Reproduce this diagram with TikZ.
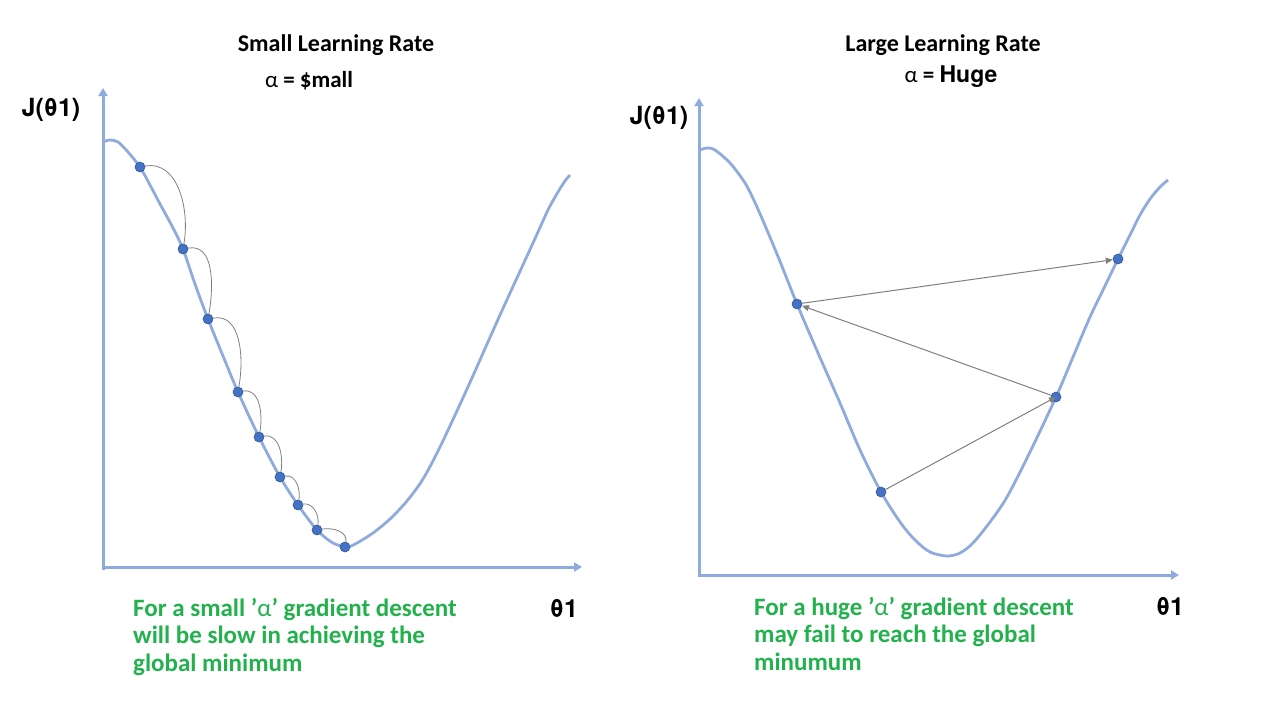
\documentclass[tikz,border=0pt]{standalone}
\usepackage{fontspec}
\setmainfont{Carlito}
\newfontfamily\arialfont{TeX Gyre Heros}
\usetikzlibrary{arrows.meta,positioning}
\definecolor{axisblue}{HTML}{8FAADC}
\definecolor{dotblue}{HTML}{4472C4}
\definecolor{notegreen}{HTML}{22B14C}
\tikzset{
    %Define standard arrow tip
    >={Triangle[width=6pt,length=7pt]},
    %Define style for points on the curve
    dot/.style={
           circle,
           draw=dotblue!75!black, line width=0.6pt,
           fill=dotblue,
           inner sep=0pt,
           minimum size=10pt},
    % Define axis and curve style
    axis/.style={
           -{Triangle[width=9pt,length=8pt]},
           draw=axisblue,
           line width=3pt},
    cost/.style={
           draw=axisblue,
           line width=2.8pt,
           line join=round},
    % Define step styles
    hop/.style={
           draw=gray,
           line width=0.8pt},
    jump/.style={
           ->,
           draw=gray,
           line width=1pt},
    % Define text styles
    title/.style={font=\fontsize{24}{28}\selectfont\bfseries},
    rate/.style={font=\fontsize{23}{26}\selectfont\bfseries},
    axlabel/.style={font=\arialfont\fontsize{25}{28}\selectfont\bfseries},
    note/.style={
           anchor=north west,
           align=left,
           inner sep=0pt,
           text=notegreen,
           font=\fontsize{25}{27.5}\selectfont\bfseries}
}
\begin{document}
\begin{tikzpicture}[x=1pt,y=-1pt]
\useasboundingbox (0,0) rectangle (1280,720);
% left panel
\node[title](tl) at (336,45){Small Learning Rate};
\node[rate](al) at (309,81){{\mdseries α} = \$mall};
\node[axlabel](jl) at (51,110){J(θ1)};
\node[axlabel](xl) at (564,608){θ1};
\draw[axis] (103,570) -- (103,88);
\draw[axis] (101.5,567) -- (582,567);
\draw[cost] plot[smooth,tension=0.5] coordinates {(103,142) (110,140) (118,142) (128,152) (140,167) (150,185) (160,204) (172,226) (183,249) (195,284) (208,319) (223,356) (238,392) (259,437) (280,477) (298,505) (317,530) (333,543) (347,547) (357,543) (373,533) (390,519) (407,501) (423,479) (440,447) (467,389) (500,315) (533,243) (548,210) (558,192) (565,181) (570,175)};
\node[dot](l1) at (140,167){};
\node[dot](l2) at (183,249){};
\node[dot](l3) at (208,319){};
\node[dot](l4) at (238,392){};
\node[dot](l5) at (259,437){};
\node[dot](l6) at (280,477){};
\node[dot](l7) at (298,505){};
\node[dot](l8) at (317,530){};
\node[dot](l9) at (345,547){};
\foreach \a/\b in {l1/l2,l2/l3,l3/l4,l4/l5,l5/l6,l6/l7,l7/l8,l8/l9}
	\draw[hop] (\a) to[out=10,in=80] (\b);
\node[note](nl) at (133,598){For a small '{\mdseries α}' gradient descent\\will be slow in achieving the\\global minimum};
% right panel
\node[title](tr) at (943,45){Large Learning Rate};
\node[rate](ar) at (951,77){{\mdseries α} = {\arialfont Huge}};
\node[axlabel](jr) at (659,118){J(θ1)};
\node[axlabel](xr) at (1170,606){θ1};
\draw[axis] (699,577) -- (699,98);
\draw[axis] (697.5,575) -- (1179,575);
\draw[cost] plot[smooth,tension=0.5] coordinates {(700,150) (707,148) (715,150) (730,163) (745,183) (757,207) (777,254) (797,304) (818,353) (840,403) (860,450) (881,492) (900,522) (915,540) (930,552) (947,556) (960,553) (973,543) (990,522) (1007,497) (1030,452) (1056,397) (1073,357) (1090,317) (1104,288) (1118,259) (1130,235) (1140,215) (1150,199) (1160,187) (1168,180)};
\node[dot](r1) at (881,492){};
\node[dot](r2) at (1056,397){};
\node[dot](r3) at (797,304){};
\node[dot](r4) at (1118,259){};
\draw[jump] (r1) -- (r2.center);
\draw[jump] (r2) -- (r3);
\draw[jump] (r3) -- (r4);
\node[note](nr) at (754,597){For a huge '{\mdseries α}' gradient descent\\may fail to reach the global\\minumum};
\end{tikzpicture}
\end{document}
